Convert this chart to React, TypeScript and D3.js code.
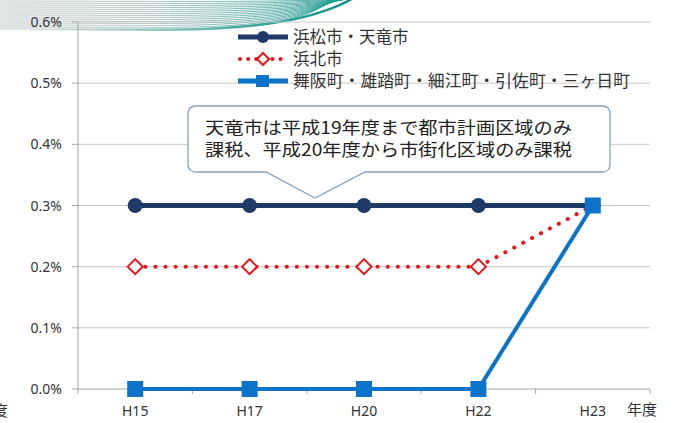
import React from "react";
import * as d3 from "d3";

const categories = ["H15", "H17", "H20", "H22", "H23"];
const seriesNames = ["浜松市・天竜市", "浜北市", "舞阪町・雄踏町・細江町・引佐町・三ヶ日町"];
const hamamatsu = [0.3, 0.3, 0.3, 0.3, 0.3];
const hamakita = [0.2, 0.2, 0.2, 0.2, 0.3];
const towns = [0, 0, 0, 0, 0.3];
const yTicks = [0, 0.1, 0.2, 0.3, 0.4, 0.5, 0.6];
const calloutLines = ["天竜市は平成19年度まで都市計画区域のみ", "課税、平成20年度から市街化区域のみ課税"];

const W = 674, H = 423;
const left = 78, right = 650, top = 22, bottom = 389;
const jp = "'Noto Sans CJK JP', 'Noto Sans', sans-serif";

export default function App() {
  const x = d3.scaleBand<string>().domain(categories).range([left, right]);
  const y = d3.scaleLinear().domain([0, 0.6]).range([bottom, top]);
  const cx = (c: string) => (x(c) as number) + x.bandwidth() / 2;
  const line = d3.line<number>().x((_, i) => cx(categories[i])).y((v) => y(v));

  const navy = "#1F3A66";
  const red = "#E8141B";
  const blue = "#0B74C8";

  // swoosh stripes: each line runs flat then curves up toward top-right
  const stripes = d3.range(0, 15).map((i) => {
    const s = 1 + i * 2;
    const endX = 352 - i * 1.5;
    return `M0,${s} L${150},${s + 0.4} C${250},${s + 0.8} ${310},${s * 0.75} ${endX},${-1}`;
  });

  return (
    <svg width={W} height={H} style={{ position: "absolute", left: 0, top: 0, background: "#fff" }}>
      <defs>
        <linearGradient id="swh" x1="0" x2="360" y1="0" y2="0" gradientUnits="userSpaceOnUse">
          <stop offset="0" stopColor="#b9c2c2" />
          <stop offset="0.4" stopColor="#a9c0be" />
          <stop offset="0.75" stopColor="#5aaea6" />
          <stop offset="1" stopColor="#07968b" />
        </linearGradient>
        <linearGradient id="swb" x1="60" x2="352" y1="0" y2="0" gradientUnits="userSpaceOnUse">
          <stop offset="0" stopColor="#b5d3cf" stopOpacity={0.4} />
          <stop offset="0.6" stopColor="#47ab9f" />
          <stop offset="1" stopColor="#0b8f86" />
        </linearGradient>
      </defs>
      {stripes.map((d, i) => (
        <path key={i} d={d} fill="none" stroke="url(#swh)" strokeWidth={1} opacity={0.9} />
      ))}
      <path d="M60,29.5 L150,29.8 C250,30 310,22 352,-1" fill="none" stroke="url(#swb)" strokeWidth={2.5} />

      {/* gridlines */}
      {yTicks.map((t) => (
        <line key={t} x1={left} x2={right} y1={y(t)} y2={y(t)} stroke={t === 0 ? "#a6a6a6" : "#c8c8c8"} strokeWidth={1} />
      ))}
      <line x1={left} x2={left} y1={top} y2={bottom} stroke="#a6a6a6" />
      {yTicks.map((t) => (
        <line key={"yt" + t} x1={left - 6} x2={left} y1={y(t)} y2={y(t)} stroke="#a6a6a6" />
      ))}
      {categories.concat([""]).map((c, i) => {
        const xx = left + i * x.bandwidth();
        return <line key={"xt" + i} x1={xx} x2={xx} y1={bottom} y2={bottom + 5} stroke="#a6a6a6" />;
      })}
      {yTicks.map((t) => (
        <text key={"yl" + t} x={62} y={y(t) + 5} textAnchor="end" fontFamily="'Noto Sans', sans-serif" fontSize={14} fill="#333">
          {d3.format(".1%")(t / 100)}
        </text>
      ))}
      {categories.map((c) => (
        <text key={"xl" + c} x={cx(c)} y={416} textAnchor="middle" fontFamily="'Noto Sans', sans-serif" fontSize={14} fill="#333">
          {c}
        </text>
      ))}
      <text x={627} y={415} fontFamily={jp} fontSize={15} fill="#333">年度</text>
      <text x={-7} y={416} fontFamily={jp} fontSize={15} fill="#333">度</text>

      {/* series lines */}
      <path d={line(hamamatsu) || ""} fill="none" stroke={navy} strokeWidth={5} />
      <path d={line(hamakita) || ""} fill="none" stroke={red} strokeWidth={4} strokeDasharray="0.1 10" strokeLinecap="round" />
      <path d={line(towns) || ""} fill="none" stroke={blue} strokeWidth={4} />

      {hamamatsu.map((v, i) => (
        <circle key={"c" + i} cx={cx(categories[i])} cy={y(v)} r={7.5} fill={navy} />
      ))}
      {hamakita.map((v, i) =>
        i < 4 ? (
          <path key={"d" + i} d={`M0,-7.5L7.5,0L0,7.5L-7.5,0Z`} transform={`translate(${cx(categories[i])},${y(v)})`} fill="#fff" stroke={red} strokeWidth={2} />
        ) : null
      )}
      {towns.map((v, i) => (
        <rect key={"s" + i} x={cx(categories[i]) - 8} y={y(v) - 8} width={16} height={16} fill={blue} />
      ))}

      {/* legend */}
      <g fontFamily={jp} fontSize={16.5} fill="#333">
        <line x1={238} x2={288} y1={37} y2={37} stroke={navy} strokeWidth={5} />
        <circle cx={263} cy={37} r={6} fill={navy} />
        <text x={293} y={43}>{seriesNames[0]}</text>
        <line x1={240} x2={288} y1={59} y2={59} stroke={red} strokeWidth={4} strokeDasharray="0.1 8" strokeLinecap="round" />
        <path d="M0,-6L6,0L0,6L-6,0Z" transform="translate(263,59)" fill="#fff" stroke={red} strokeWidth={2} />
        <text x={293} y={65}>{seriesNames[1]}</text>
        <line x1={238} x2={288} y1={81} y2={81} stroke={blue} strokeWidth={5} />
        <rect x={256} y={75} width={13} height={12} fill={blue} />
        <text x={293} y={87} textLength={337} lengthAdjust="spacingAndGlyphs">{seriesNames[2]}</text>
      </g>

      {/* callout */}
      <path
        d="M196,106 L602,106 Q610,106 610,114 L610,164 Q610,172 602,172 L365,172 L315,198 L266,172 L196,172 Q188,172 188,164 L188,114 Q188,106 196,106 Z"
        fill="#fff"
        stroke="#8aa0b8"
        strokeWidth={1.3}
      />
      <g fontFamily={jp} fontSize={17.5} fill="#222">
        <text x={205} y={134} textLength={367} lengthAdjust="spacingAndGlyphs">{calloutLines[0]}</text>
        <text x={205} y={156} textLength={367} lengthAdjust="spacingAndGlyphs">{calloutLines[1]}</text>
      </g>
    </svg>
  );
}
